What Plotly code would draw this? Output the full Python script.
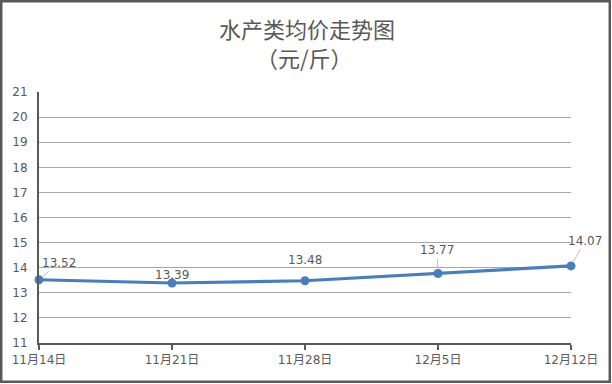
import plotly.graph_objects as go

dates = ["11月14日", "11月21日", "11月28日", "12月5日", "12月12日"]
prices = [13.52, 13.39, 13.48, 13.77, 14.07]
title_line1 = "水产类均价走势图"
title_line2 = "（元/斤）"

# label offsets (px) for data labels
lab_dx = [20, 0, 0, -1, 14]
lab_dy = [-17, -8, -21, -23, -25]
lab_arrow = [True, False, False, True, True]

W, H = 612, 384
ml, mr, mt, mb = 39, 41, 92, 41
pw, ph = W - ml - mr, H - mt - mb

txt = "#595959"
fontfam = "'DejaVu Sans', 'Noto Sans CJK SC', sans-serif"
titlefam = "'Noto Sans CJK SC', sans-serif"

fig = go.Figure()
fig.add_trace(go.Scatter(
    x=list(range(len(dates))), y=prices, mode="lines+markers",
    line=dict(color="#4a7ebb", width=3.2),
    marker=dict(color="#4a7ebb", size=9),
    hoverinfo="skip", showlegend=False, cliponaxis=False,
))

ann = []
for i, (d, v) in enumerate(zip(dates, prices)):
    if lab_arrow[i]:
        ann.append(dict(x=i, y=v, xref="x", yref="y", text=f"{v:.2f}",
                        showarrow=True, arrowhead=0, arrowwidth=1,
                        arrowcolor="#bfbfbf", ax=lab_dx[i], ay=lab_dy[i],
                        standoff=5, font=dict(size=12, color=txt, family=fontfam)))
    else:
        ann.append(dict(x=i, y=v, xref="x", yref="y", text=f"{v:.2f}",
                        showarrow=False, xshift=lab_dx[i], yshift=-lab_dy[i],
                        font=dict(size=12, color=txt, family=fontfam)))

def py(pix):
    return (H - mb - pix) / ph

def px(pix):
    return (pix - ml) / pw

ann.append(dict(x=px(307), y=py(28), xref="paper", yref="paper", text=title_line1,
                showarrow=False, xanchor="center", yanchor="middle",
                font=dict(size=22, color=txt, family=titlefam)))
ann.append(dict(x=px(304), y=py(57.5), xref="paper", yref="paper", text=title_line2,
                showarrow=False, xanchor="center", yanchor="middle",
                font=dict(size=22, color=txt, family=titlefam)))

fig.update_layout(
    width=W, height=H,
    margin=dict(l=ml, r=mr, t=mt, b=mb, autoexpand=False),
    paper_bgcolor="white", plot_bgcolor="white",
    annotations=ann,
    xaxis=dict(
        range=[0, len(dates) - 1], tickmode="array",
        tickvals=list(range(len(dates))), ticktext=dates,
        showgrid=False, zeroline=False, automargin=False,
        showline=True, linecolor="#595959", linewidth=2,
        ticks="outside", ticklen=5, tickwidth=2, tickcolor="#595959",
        tickfont=dict(size=12, color=txt, family=fontfam), fixedrange=True,
    ),
    yaxis=dict(
        range=[11, 21], dtick=1, tick0=11, automargin=False,
        showgrid=True, gridcolor="#a6a6a6", gridwidth=1.3, zeroline=False,
        showline=True, linecolor="#595959", linewidth=2,
        ticks="", ticklabelstandoff=7,
        tickfont=dict(size=12, color=txt, family=fontfam), fixedrange=True,
    ),
    shapes=[dict(type="rect", xref="paper", yref="paper",
                 x0=px(1.2), x1=px(609.8), y0=py(381.8), y1=py(1.2),
                 line=dict(color="#595959", width=2.5), layer="above")],
)

fig.write_html("out.html", config={"displayModeBar": False},
               post_script="document.body.style.margin='0';document.body.style.overflow='hidden';")
